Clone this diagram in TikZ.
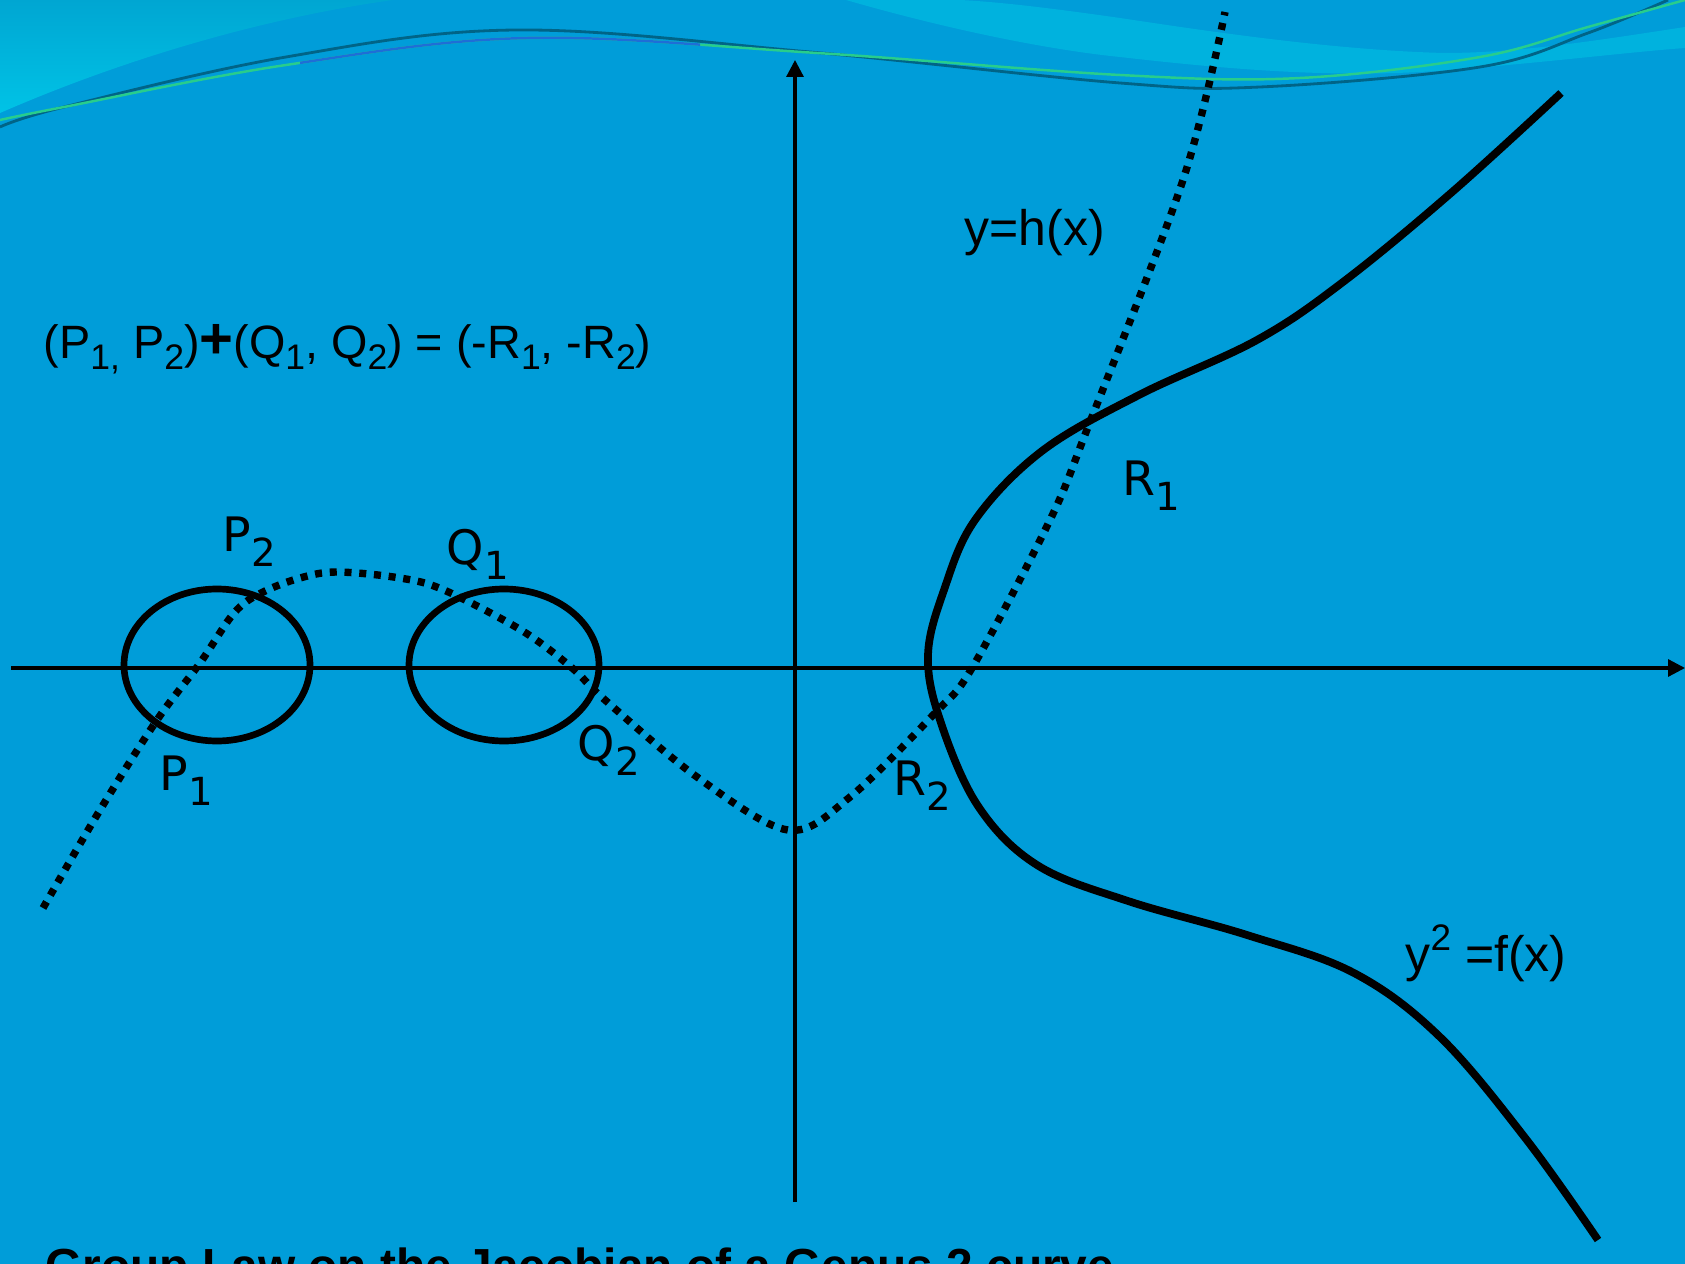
\documentclass[tikz,border=0pt]{standalone}
\usepackage{fontspec}
\setmainfont{Liberation Sans}
\newfontfamily\comicfont{DejaVu Sans}
\usetikzlibrary{arrows.meta}
\definecolor{bgblue}{RGB}{0,157,217}
\definecolor{ribbon}{RGB}{0,178,222}
\definecolor{cornerlo}{RGB}{0,195,230}
\definecolor{cornerhi}{RGB}{0,166,210}
\definecolor{wavedark}{RGB}{0,100,135}
\definecolor{wavegreen}{RGB}{40,205,140}
\definecolor{waveblue}{RGB}{30,110,215}
\newcommand\arsub[1]{\raisebox{-0.22em}{\fontsize{10.1pt}{10.1pt}\selectfont #1}}
\newcommand\arsup[1]{\raisebox{0.42em}{\fontsize{10.5pt}{10.5pt}\selectfont #1}}
\newcommand\cosub[1]{\raisebox{-0.32em}{\fontsize{11pt}{11pt}\selectfont #1}}
\tikzset{
  axis/.style={line width=0.9pt,-{Triangle[length=4.8pt,width=4.8pt]}},
  curvef/.style={line width=2.2pt,line join=round},
  curveh/.style={line width=2.1pt,dash pattern=on 2pt off 2.2pt},
  oval/.style={line width=1.9pt},
  arialtxt/.style={inner sep=0pt,anchor=base west,font=\fontsize{14.2pt}{16pt}\selectfont},
  comiclab/.style={inner sep=0pt,anchor=base west,font=\comicfont\fontsize{13.5pt}{16pt}\selectfont},
}
\begin{document}
\begin{tikzpicture}[x=0.01cm,y=-0.01cm]
\useasboundingbox (0,0) rectangle (1685,1264);
\clip (0,0) rectangle (1685,1264);
% background
\fill[bgblue] (0,0) rectangle (1685,1264);
% top-left lighter corner
\shade[top color=cornerhi,bottom color=cornerlo]
  (0,0) -- (393,0) .. controls (250,20) and (110,65) .. (0,113) -- cycle;
% ribbon top right
\fill[ribbon] (846,0) .. controls (950,30) and (1050,50) .. (1120,57)
  .. controls (1250,72) and (1350,78) .. (1450,70)
  .. controls (1550,62) and (1630,52) .. (1685,48) -- (1685,27)
  .. controls (1600,40) and (1520,53) .. (1444,53)
  .. controls (1330,50) and (1200,30) .. (1120,18)
  .. controls (1050,8) and (1000,2) .. (960,0) -- cycle;
% wave lines
\draw[wavedark,line width=0.8pt] plot[smooth,tension=0.6] coordinates
  {(0,127) (64,107) (286,57) (516,30) (810,52) (1120,83) (1260,87) (1480,67) (1588,33) (1668,0)};
\draw[wavegreen,line width=0.7pt] plot[smooth,tension=0.6] coordinates
  {(0,120) (64,107) (286,65) (527,38) (817,53) (1120,75) (1300,78) (1480,57) (1588,27) (1685,0)};
\begin{scope}
\clip (300,0) rectangle (700,150);
\draw[waveblue,line width=0.7pt] plot[smooth,tension=0.6] coordinates
  {(0,120) (64,107) (286,65) (527,38) (817,53) (1120,75) (1300,78) (1480,57) (1588,27) (1685,0)};
\end{scope}
% axes
\coordinate (xs) at (11,668);
\coordinate (xe) at (1685,668);
\coordinate (ys) at (795,1202);
\coordinate (ye) at (795,60);
\draw[axis] (xs) -- (xe);
\draw[axis] (ys) -- (ye);
% ellipses
\draw[oval] (217,665) ellipse [x radius=93,y radius=76];
\draw[oval] (504,665) ellipse [x radius=95,y radius=76];
% curve y^2 = f(x)
\draw[curvef] plot[smooth,tension=0.6] coordinates
  {(1561,93) (1451,193) (1343,282) (1257,340) (1139,395) (1042,451) (975,520) (944,590) (928,655) (940,720) (978,806) (1037,865) (1128,901) (1247,935) (1354,973) (1440,1037) (1526,1139) (1598,1240)};
% curve y = h(x)
\draw[curveh] plot[smooth,tension=0.55] coordinates
  {(43,908) (100,810) (157,720) (200,663) (234,613) (261,593) (300,578) (337,572) (400,578) (444,590) (521,630) (571,667) (605,700) (697,777) (788,830) (850,797) (935,713) (972,668) (1050,520) (1088,427) (1183,180) (1225,12)};
% texts
\node[arialtxt,font=\fontsize{13.3pt}{16pt}\selectfont] (law) at (43,359) {(P\arsub{1,} P\arsub{2})\raisebox{0.02em}{\fontsize{16.5pt}{17pt}\selectfont\textbf{+}}(Q\arsub{1}, Q\arsub{2}) = (-R\arsub{1}, -R\arsub{2})};
\node[arialtxt] (hx) at (964,246) {y=h(x)};
\node[arialtxt] (fx) at (1405,971) {y\arsup{2} =f(x)};
\node[arialtxt,font=\bfseries\fontsize{13.6pt}{16pt}\selectfont] (title) at (45,1282) {Group Law on the Jacobian of a Genus 2 curve};
% point labels
\node[comiclab] (P2) at (222,551) {P\cosub{2}};
\node[comiclab] (Q1) at (446,564) {Q\cosub{1}};
\node[comiclab] (Q2) at (577,760) {Q\cosub{2}};
\node[comiclab] (P1) at (159,790) {P\cosub{1}};
\node[comiclab] (R1) at (1122,495) {R\cosub{1}};
\node[comiclab] (R2) at (893,795) {R\cosub{2}};
\end{tikzpicture}
\end{document}
